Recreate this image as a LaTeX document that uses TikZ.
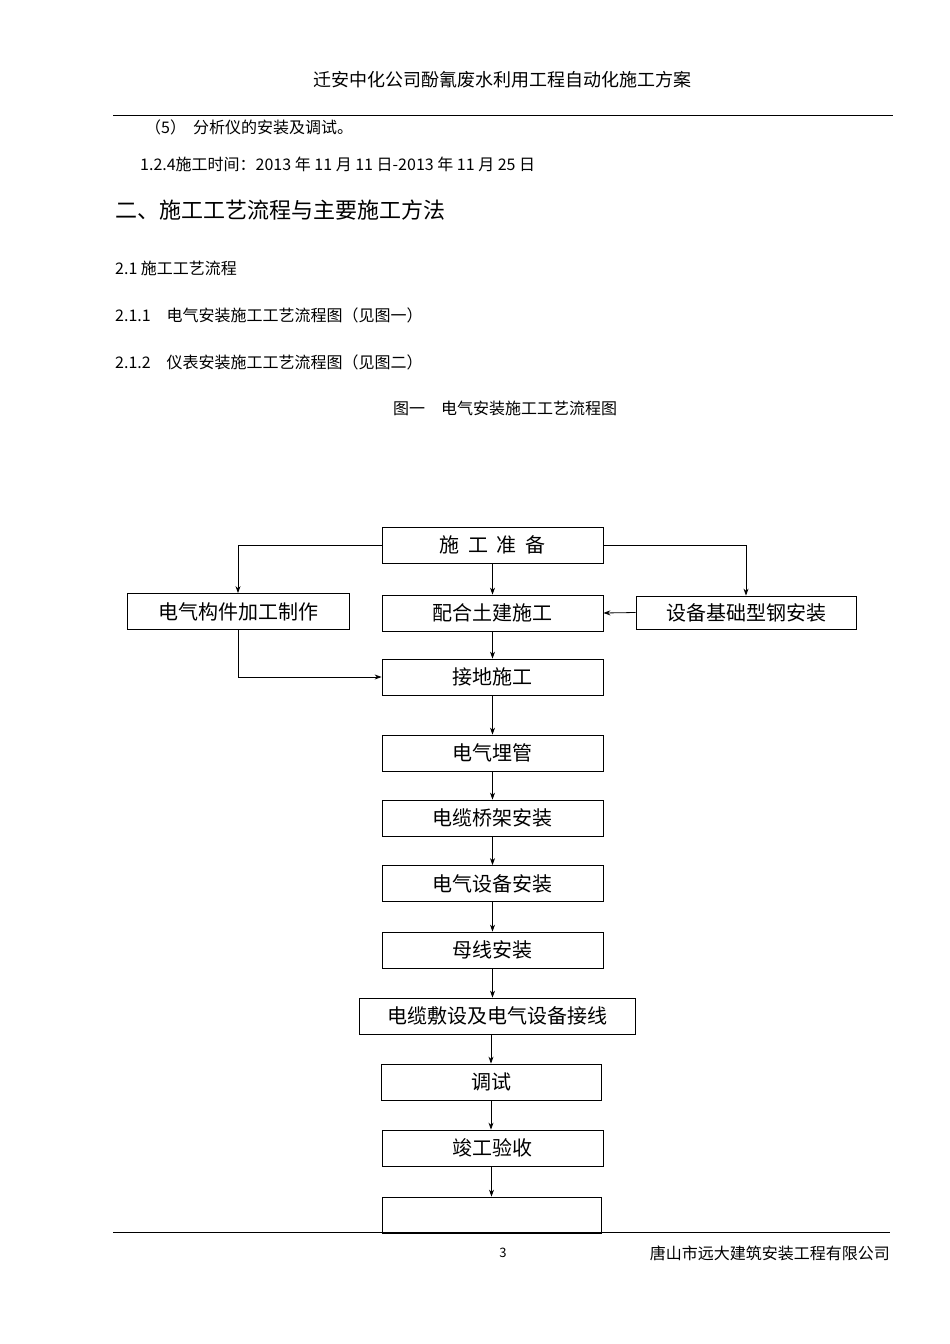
\documentclass[tikz,border=0pt]{standalone}
\usepackage{fontspec}
\setmainfont{Noto Sans CJK SC}
\usetikzlibrary{arrows.meta}
\begin{document}
\begin{tikzpicture}[x=1pt,y=-1pt,
  bx/.style={draw,thick,minimum height=36pt,inner sep=0pt,font=\fontsize{20}{20}\selectfont},
  ar/.style={thick,-{Stealth[length=7pt,width=5pt]}},
  tx/.style={anchor=west,inner sep=0pt,font=\fontsize{16}{16}\selectfont}]
\useasboundingbox (0,0) rectangle (950,1344);
\node (hd) at (502,80) {\fontsize{18}{18}\selectfont 迁安中化公司酚氰废水利用工程自动化施工方案};
\draw (113,115) -- (893,115);
\node[tx] (l1) at (145,127) {（5）\ \ 分析仪的安装及调试。};
\node[tx] (l2) at (140,164) {1.2.4施工时间：2013 年 11 月 11 日-2013 年 11 月 25 日};
\node[tx,font=\fontsize{22}{22}\selectfont] (l3) at (115,210) {二、施工工艺流程与主要施工方法};
\node[tx] (l4) at (115,268) {2.1\ 施工工艺流程};
\node[tx] (l5) at (115,315) {2.1.1\quad 电气安装施工工艺流程图（见图一）};
\node[tx] (l6) at (115,362) {2.1.2\quad 仪表安装施工工艺流程图（见图二）};
\node[font=\fontsize{16}{16}\selectfont] (cap) at (505,408) {图一\quad 电气安装施工工艺流程图};

\node[bx,minimum width=221pt] (zb) at (492.5,545) {施\ \ 工\ \ 准\ \ 备};
\node[bx,minimum width=222pt] (gj) at (238,611.5) {电气构件加工制作};
\node[bx,minimum width=221pt] (ph) at (492.5,613) {配合土建施工};
\node[bx,minimum width=220pt,minimum height=33pt] (sb) at (746,612.5) {设备基础型钢安装};
\node[bx,minimum width=221pt] (jd) at (492.5,677) {接地施工};
\node[bx,minimum width=221pt] (mg) at (492.5,753) {电气埋管};
\node[bx,minimum width=221pt] (qj) at (492.5,818) {电缆桥架安装};
\node[bx,minimum width=221pt] (dq) at (492.5,883.5) {电气设备安装};
\node[bx,minimum width=221pt] (mx) at (492.5,950) {母线安装};
\node[bx,minimum width=276pt] (fs) at (497,1016) {电缆敷设及电气设备接线};
\node[bx,minimum width=220pt] (ts) at (491,1082) {调试};
\node[bx,minimum width=221pt] (jg) at (492.5,1148) {竣工验收};
\node[bx,minimum width=219pt] (em) at (491.5,1215) {};

\draw[ar] (zb.west) -| (gj.north);
\draw[ar] (zb.east) -| (sb.north);
\draw[ar] (zb) -- (ph);
\draw[ar] (sb.west) -- (ph.east);
\draw[ar] (gj.south) |- (jd.west);
\draw[ar] (ph) -- (jd);
\draw[ar] (jd) -- (mg);
\draw[ar] (mg) -- (qj);
\draw[ar] (qj) -- (dq);
\draw[ar] (dq) -- (mx);
\draw[ar] (mx) -- (mx|-fs.north);
\draw[ar] (fs.south-|ts) -- (ts);
\draw[ar] (ts) -- (ts|-jg.north);
\draw[ar] (jg.south-|em) -- (em);

\draw (113,1232) -- (890,1232);
\node[font=\fontsize{13}{13}\selectfont] (pg) at (503,1253) {3};
\node[anchor=east,inner sep=0pt,font=\fontsize{16}{16}\selectfont] (co) at (890,1253) {唐山市远大建筑安装工程有限公司};
\end{tikzpicture}
\end{document}
